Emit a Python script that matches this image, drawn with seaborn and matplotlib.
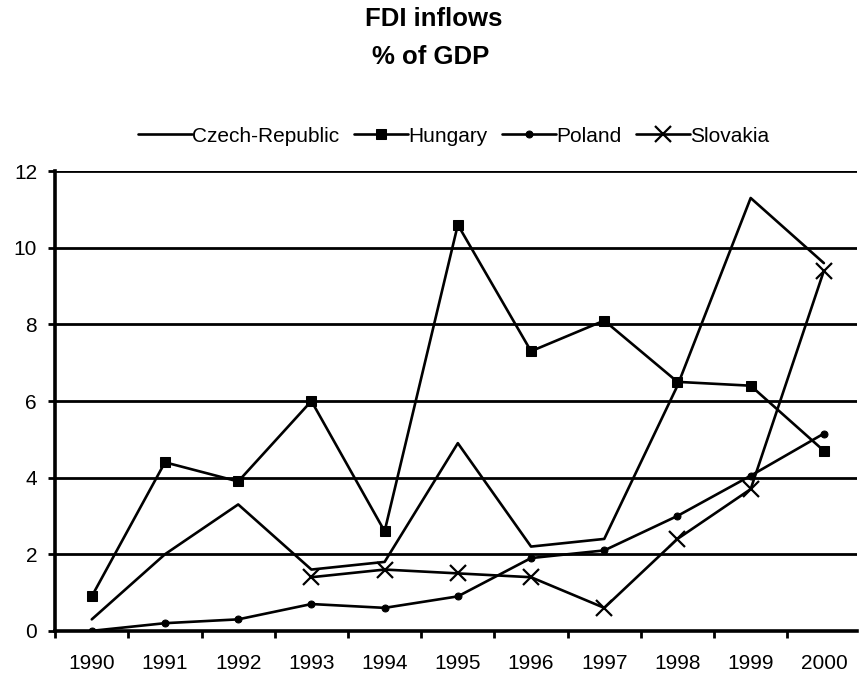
import matplotlib
matplotlib.use("Agg")
import matplotlib.pyplot as plt
import numpy as np
import pandas as pd
import seaborn as sns

years = ["1990", "1991", "1992", "1993", "1994", "1995", "1996", "1997", "1998", "1999", "2000"]
czech = [0.3, 2.0, 3.3, 1.6, 1.8, 4.9, 2.2, 2.4, 6.4, 11.3, 9.6]
hungary = [0.9, 4.4, 3.9, 6.0, 2.6, 10.6, 7.3, 8.1, 6.5, 6.4, 4.7]
poland = [0.0, 0.2, 0.3, 0.7, 0.6, 0.9, 1.9, 2.1, 3.0, 4.05, 5.15]
slovakia = [np.nan, np.nan, np.nan, 1.4, 1.6, 1.5, 1.4, 0.6, 2.4, 3.7, 9.4]

series = {"Czech-Republic": czech, "Hungary": hungary, "Poland": poland, "Slovakia": slovakia}
styles = {
    "Czech-Republic": dict(marker=None),
    "Hungary": dict(marker="s", markersize=7.2),
    "Poland": dict(marker="o", markersize=5),
    "Slovakia": dict(marker="x", markersize=12, markeredgewidth=1.6),
}

sns.set_theme(style="white")
plt.rcParams["font.family"] = ["Liberation Sans", "DejaVu Sans"]
plt.rcParams["text.color"] = "black"
plt.rcParams["xtick.color"] = "black"
plt.rcParams["ytick.color"] = "black"

fig = plt.figure(figsize=(8.62, 6.82), dpi=100)
ax = fig.add_axes([0.064, 0.075, 0.93, 0.674])

x = np.arange(len(years))
for name, vals in series.items():
    df = pd.DataFrame({"x": x, "y": vals}).dropna()
    sns.lineplot(data=df, x="x", y="y", ax=ax, color="black", linewidth=1.9,
                 markeredgecolor="black", markerfacecolor="black",
                 label=name, **styles[name])

ax.set_xlim(-0.5, 10.45)
ax.set_ylim(0, 12)
ax.set_yticks(range(0, 13, 2))
ax.yaxis.grid(True, color="black", linewidth=2.0)
ax.set_axisbelow(True)
ax.set_xticks(x)
ax.set_xticklabels(years)
ax.set_xticks(np.arange(-0.5, 10.5, 1), minor=True)
ax.tick_params(axis="x", which="major", length=0, pad=17, labelsize=15, labelcolor="black")
ax.tick_params(axis="x", which="minor", length=5, width=2, direction="out", color="black", bottom=True)
ax.tick_params(axis="y", which="major", length=5, width=2, direction="out", color="black", left=True,
               labelsize=15, pad=8, labelcolor="black")
ax.set_xlabel("")
ax.set_ylabel("")
for s in ["top", "right"]:
    ax.spines[s].set_visible(False)
for s in ["left", "bottom"]:
    ax.spines[s].set_color("black")
    ax.spines[s].set_linewidth(2.6)

ax.legend(loc="center", bbox_to_anchor=(0.497, 1.076), ncol=4, frameon=False,
          fontsize=15, handlelength=2.6, handletextpad=0.0, columnspacing=0.7)

fig.text(0.503, 1 - 19 / 682, "FDI inflows", ha="center", va="center", fontsize=18.5, fontweight="bold")
fig.text(0.5, 1 - 57 / 682, "% of GDP", ha="center", va="center", fontsize=18.5, fontweight="bold")

fig.savefig("out.png", dpi=100)
